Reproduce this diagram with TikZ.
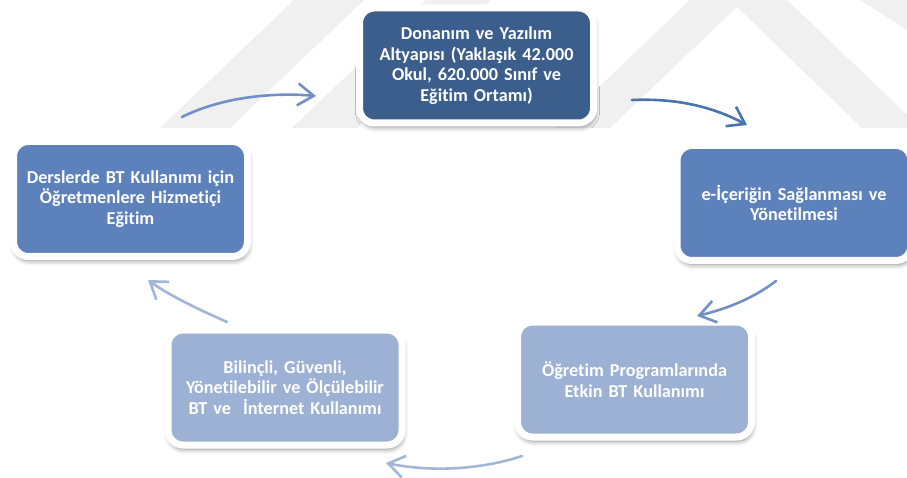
\documentclass[tikz,border=0pt]{standalone}
\usepackage{fontspec}
\setmainfont{Carlito}[Ligatures={NoCommon,NoContextual},WordSpace=0.8]
\usetikzlibrary{arrows.meta,shadows.blur}
\definecolor{boxdark}{HTML}{3B5E8C}
\definecolor{boxmid}{HTML}{5D81BA}
\definecolor{boxlight}{HTML}{9CB1D3}
\definecolor{arrdark}{HTML}{4773B0}
\definecolor{arrmid}{HTML}{7090C6}
\definecolor{arrlight}{HTML}{A2B6D8}
\definecolor{wmark}{HTML}{F0F0F0}
\tikzset{
  cyclebox/.style={draw=white, line width=7pt, rounded corners=15pt,
    minimum width=234pt, minimum height=115pt, inner sep=0pt,
    text width=224pt, align=center, text=white,
    font=\bfseries\fontsize{18.2}{20.5}\selectfont,
    blur shadow={shadow xshift=1pt, shadow yshift=-4pt, shadow blur radius=5pt, shadow opacity=50}},
  cyclearrow/.style={line width=2.6pt, line cap=round,
    -{Straight Barb[length=16pt,width=22pt,line width=2.6pt]}},
  wmarkshape/.style={fill=wmark, draw=none}
}
\begin{document}
\begin{tikzpicture}[x=1pt,y=-1pt]
\useasboundingbox (0,0) rectangle (907,478);
% faint background watermark
\fill[wmarkshape] (160,128) -- (230,128) -- (364,0) -- (294,0) -- cycle;
\fill[wmarkshape] (292,128) -- (357,128) -- (491,0) -- (426,0) -- cycle;
\fill[wmarkshape] (556,128) -- (690,0) -- (787,0) -- (921,128) -- (862,128) -- (737,7) -- (610,128) -- cycle;
\fill[wmarkshape] (860,0) -- (907,0) -- (907,30) -- cycle;

\node[cyclebox, fill=boxdark]  (top)   at (476.5,65.5) {Donanım ve Yazılım\\Altyapısı (Yaklaşık 42.000\\Okul, 620.000 Sınıf ve\\Eğitim Ortamı)};
\node[cyclebox, fill=boxmid]   (right) at (794,203)    {e-İçeriğin Sağlanması ve\\Yönetilmesi};
\node[cyclebox, fill=boxlight] (brt)   at (634.5,379.5) {Öğretim Programlarında\\Etkin BT Kullanımı};
\node[cyclebox, fill=boxlight] (blt)   at (285,387.5)  {Bilinçli, Güvenli,\\Yönetilebilir ve Ölçülebilir\\BT ve\ \ İnternet Kullanımı};
\node[cyclebox, fill=boxmid]   (left)  at (130.5,199)  {Derslerde BT Kullanımı için\\Öğretmenlere Hizmetiçi\\Eğitim};

\coordinate (a1s) at (632,100);  \coordinate (a1e) at (747,125);
\coordinate (a2s) at (776,281);  \coordinate (a2e) at (697,316);
\coordinate (a3s) at (522,456);  \coordinate (a3e) at (386,463);
\coordinate (a4s) at (227,322);  \coordinate (a4e) at (148,280);
\coordinate (a5s) at (182,117);  \coordinate (a5e) at (316,96);

\draw[cyclearrow, arrdark]  (a1s) .. controls (680,98) and (715,108) .. (a1e);
\draw[cyclearrow, arrmid]   (a2s) .. controls (755,297) and (730,308) .. (a2e);
\draw[cyclearrow, arrlight] (a3s) .. controls (480,470) and (430,472) .. (a3e);
\draw[cyclearrow, arrlight] (a4s) .. controls (200,310) and (170,296) .. (a4e);
\draw[cyclearrow, arrmid]   (a5s) .. controls (220,98) and (270,92) .. (a5e);
\end{tikzpicture}
\end{document}
